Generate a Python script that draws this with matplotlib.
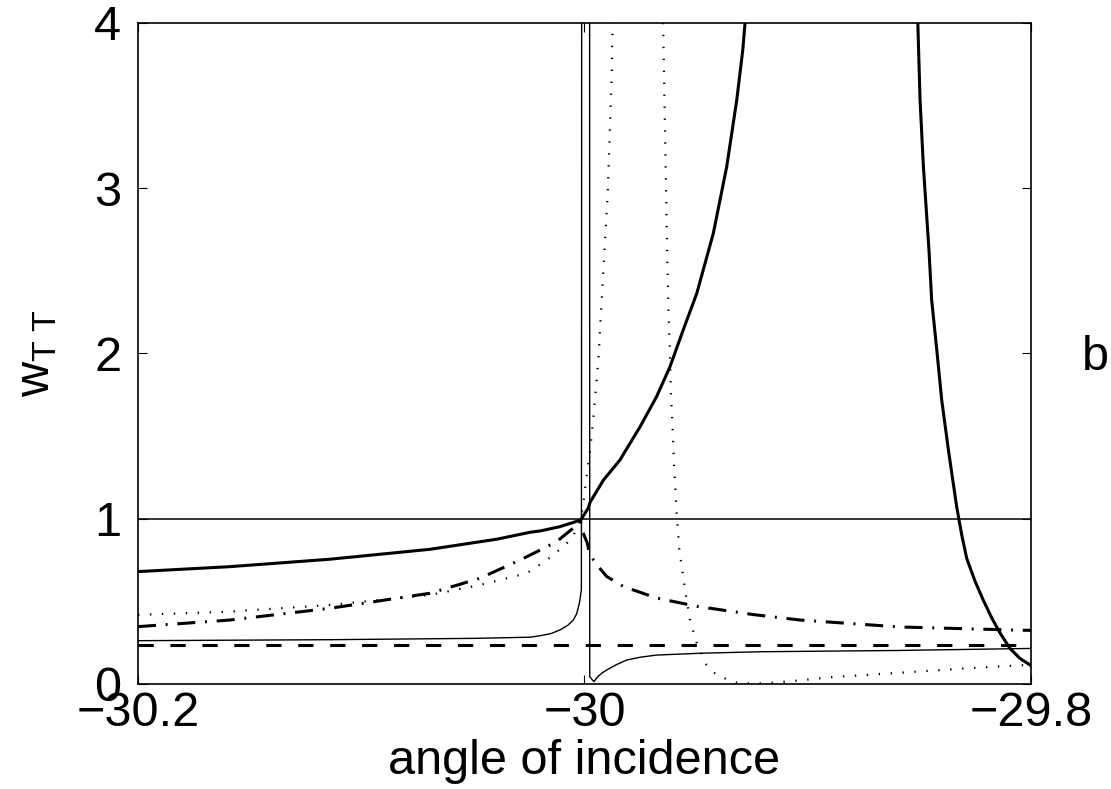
import matplotlib
matplotlib.use("Agg")
import matplotlib.pyplot as plt

plt.rcParams['font.family'] = ['Liberation Sans', 'DejaVu Sans']
plt.rcParams['mathtext.fontset'] = 'custom'
plt.rcParams['mathtext.rm'] = 'Liberation Sans'
plt.rcParams['mathtext.it'] = 'Liberation Sans'
plt.rcParams['lines.scale_dashes'] = False

# thin reference line and flat dashed curve
x_ref = [-30.2, -29.8]
y_ref = [1.0, 1.0]
x_flat = [-30.2, -29.8]
y_flat = [0.236, 0.236]

# thick solid, first branch (runs off the top near -29.928)
xa = [-30.2, -30.1588, -30.114, -30.0692, -30.0393, -30.0244, -30.0199, -30.0110, -30.0017,
      -29.9983, -29.9975, -29.9915, -29.9841, -29.9751, -29.9677, -29.9617, -29.9558,
      -29.9497, -29.9423, -29.9363, -29.9318, -29.9291, -29.9281, -29.9276]
ya = [0.680, 0.710, 0.755, 0.815, 0.876, 0.918, 0.926, 0.952, 0.992,
      1.065, 1.100, 1.234, 1.356, 1.557, 1.739, 1.920, 2.142,
      2.364, 2.727, 3.130, 3.534, 3.837, 4.0, 4.3]

# thick solid, second branch (comes down from the top near -29.851)
xe = [-29.8512, -29.8507, -29.8497, -29.8482, -29.8467, -29.8457, -29.8445, -29.8422, -29.8400,
      -29.8370, -29.8333, -29.8310, -29.8288, -29.8250, -29.8214, -29.8176, -29.8139,
      -29.8094, -29.8050, -29.8004, -29.8]
ye = [4.3, 4.0, 3.534, 3.130, 2.828, 2.626, 2.324, 2.021, 1.719,
      1.416, 1.073, 0.900, 0.760, 0.620, 0.508, 0.400, 0.309,
      0.215, 0.155, 0.115, 0.110]

# dash-dot curve
xb = [-30.2, -30.1588, -30.114, -30.0692, -30.0468, -30.0289, -30.0169, -30.0117, -30.0017,
      -30.0008, -29.9988, -29.9975, -29.9938, -29.9900, -29.9826, -29.9677, -29.9497,
      -29.9244, -29.9035, -29.8587, -29.8036, -29.8]
yb = [0.347, 0.387, 0.458, 0.549, 0.640, 0.750, 0.830, 0.870, 0.980,
      0.920, 0.855, 0.780, 0.710, 0.650, 0.590, 0.520, 0.470,
      0.420, 0.387, 0.345, 0.325, 0.325]

# dotted curve, first branch
xc = [-30.2, -30.1588, -30.114, -30.0692, -30.0468, -30.0259, -30.0169, -30.0087, -30.0053,
      -30.0028, -30.0017, -30.0005, -29.9993, -29.9978, -29.9961, -29.9938, -29.9923,
      -29.9911, -29.9896, -29.9887, -29.9878, -29.9874, -29.9872]
yc = [0.418, 0.438, 0.478, 0.539, 0.599, 0.670, 0.750, 0.840, 0.890,
      0.960, 1.000, 1.095, 1.234, 1.376, 1.598, 1.961, 2.324,
      2.610, 2.970, 3.330, 3.696, 4.0, 4.3]

# dotted curve, second branch
xf = [-29.9650, -29.9647, -29.9630, -29.9624, -29.9617, -29.9613, -29.9605, -29.9599, -29.9590,
      -29.9587, -29.9576, -29.9560, -29.9545, -29.9527, -29.9497, -29.9453, -29.9416,
      -29.9371, -29.9318, -29.9266, -29.9214, -29.9156, -29.9102, -29.9050, -29.8887,
      -29.8587, -29.8288, -29.8019, -29.8]
yf = [4.3, 3.94, 2.638, 2.263, 1.981, 1.761, 1.537, 1.325, 1.109,
      1.033, 0.821, 0.670, 0.528, 0.387, 0.246, 0.115, 0.065,
      0.034, 0.008, 0.004, 0.004, 0.008, 0.014, 0.020, 0.042,
      0.068, 0.095, 0.115, 0.117]

# thin solid curve, left and right of the jump
xd1 = [-30.2, -30.114, -30.05, -30.0244, -30.0199, -30.0150, -30.0110, -30.0075, -30.0050,
       -30.0035, -30.0023, -30.0014, -30.00132, -30.00125]
yd1 = [0.262, 0.268, 0.276, 0.283, 0.292, 0.305, 0.327, 0.355, 0.387,
       0.425, 0.488, 0.569, 2.0, 4.3]
xd2 = [-29.9977, -29.99765, -29.9958, -29.9940, -29.9920, -29.9900, -29.9860, -29.9811,
       -29.9750, -29.9677, -29.9482, -29.9214, -29.8587, -29.8004, -29.8]
yd2 = [4.3, 0.044, 0.014, 0.045, 0.068, 0.085, 0.115, 0.145,
       0.162, 0.175, 0.186, 0.195, 0.203, 0.215, 0.215]

xticks = [-30.2, -30, -29.8]
xtick_labels = ['\u221230.2', '\u221230', '\u221229.8']
yticks = [0, 1, 2, 3, 4]

fig = plt.figure(figsize=(11.11, 7.89), dpi=100)
ax = fig.add_axes([0.1242, 0.1331, 0.8038, 0.8378])

ax.plot(x_ref, y_ref, color='black', lw=1.1)
ax.plot(x_flat, y_flat, color='black', lw=2.2, dashes=(11, 12))
ax.plot(xa, ya, color='black', lw=2.2)
ax.plot(xe, ye, color='black', lw=2.2)
ax.plot(xb, yb, color='black', lw=2.2, dashes=(13, 7, 1.4, 7))
ax.plot(xc, yc, color='black', lw=1.6, dashes=(1.0, 7.6), dash_capstyle='butt')
ax.plot(xf, yf, color='black', lw=1.6, dashes=(1.0, 7.6), dash_capstyle='butt')
ax.plot(xd1, yd1, color='black', lw=1.0)
ax.plot(xd2, yd2, color='black', lw=1.0)

ax.set_xlim(-30.2, -29.8)
ax.set_ylim(0, 4)
ax.set_xticks(xticks)
ax.set_xticklabels(xtick_labels)
ax.set_yticks(yticks)
ax.tick_params(direction='in', length=6.5, width=0.8, top=True, right=True,
               labelsize=35)
ax.tick_params(axis='y', pad=12)
ax.tick_params(axis='x', pad=5)
for s in ax.spines.values():
    s.set_linewidth(1.2)

ax.set_xlabel('angle of incidence', fontsize=35, labelpad=2)
ax.set_ylabel(r'$\mathrm{w_{T\ T}}$', fontsize=35)
ax.yaxis.set_label_coords(-0.088, 0.5)
fig.text(0.986, 0.5475, 'b', fontsize=35, ha='center', va='center')

fig.savefig('out.png', dpi=100)
